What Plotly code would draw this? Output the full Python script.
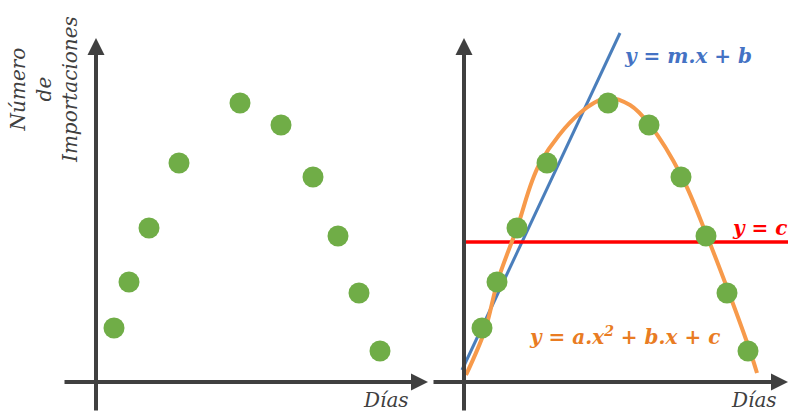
import plotly.graph_objects as go

# Datos (días, número de importaciones)
dias = [1.8, 3.3, 5.3, 8.3, 14.4, 18.5, 21.7, 24.2, 26.3, 28.4]
importaciones = [5.4, 10.0, 15.4, 21.9, 27.9, 25.7, 20.5, 14.6, 8.9, 3.1]

# Ajustes
recta_x = [-0.2, 15.6]
recta_y = [1.2, 34.9]
constante_x = [0.2, 32.4]
constante_y = [14.0, 14.0]
parabola_x = [0.2, 2.1, 3.4, 5.3, 7.6, 11.6, 14.3, 16.6, 18.6, 21.8, 24.3, 26.5, 28.6, 29.3]
parabola_y = [0.7, 5.2, 10.2, 15.4, 21.9, 26.9, 28.4, 27.7, 25.7, 20.5, 14.6, 8.9, 3.1, 0.9]

verde = "#70AD47"
naranja = "#F79A4B"
azul = "#4A7EBB"
rojo = "#FF0000"
gris = "#404040"
serif = "DejaVu Serif"

fig = go.Figure()

# panel izquierdo
fig.add_trace(go.Scatter(x=dias, y=importaciones, mode="markers",
                         marker=dict(size=21, color=verde), xaxis="x", yaxis="y"))

# panel derecho
fig.add_trace(go.Scatter(x=recta_x, y=recta_y, mode="lines",
                         line=dict(color=azul, width=3), xaxis="x2", yaxis="y2"))
fig.add_trace(go.Scatter(x=constante_x, y=constante_y, mode="lines",
                         line=dict(color=rojo, width=3.5), xaxis="x2", yaxis="y2"))
fig.add_trace(go.Scatter(x=parabola_x, y=parabola_y, mode="lines",
                         line=dict(color=naranja, width=4, shape="spline"),
                         xaxis="x2", yaxis="y2"))
fig.add_trace(go.Scatter(x=dias, y=importaciones, mode="markers",
                         marker=dict(size=21, color=verde), xaxis="x2", yaxis="y2"))

ejes = dict(showgrid=False, zeroline=False, showticklabels=False, ticks="", showline=False)
titulo_y = "Número<br>de<br>Importaciones"
fuente_titulo = dict(family=serif, size=20, color=gris, style="italic")

annotations = []
for xr, yr, x0, tip, xt in [("x", "y", -3.3, 33.2, -5.2), ("x2", "y2", -3.2, 32.4, -5.1)]:
    # eje x
    annotations.append(dict(x=tip, y=0, ax=x0, ay=0,
                            xref=xr, yref=yr, axref=xr, ayref=yr, text="",
                            showarrow=True, arrowhead=2, arrowsize=0.85,
                            arrowwidth=4, arrowcolor=gris))
    # eje y
    annotations.append(dict(x=0, y=34.4, ax=0, ay=-3.0,
                            xref=xr, yref=yr, axref=xr, ayref=yr, text="",
                            showarrow=True, arrowhead=2, arrowsize=0.85,
                            arrowwidth=4, arrowcolor=gris))
    annotations.append(dict(x=31.5, y=-1.8, xref=xr, yref=yr, xanchor="right",
                            text="Días", showarrow=False, font=fuente_titulo))
    annotations.append(dict(x=xt, y=29.2, xref=xr, yref=yr, text=titulo_y,
                            textangle=-90, showarrow=False, font=fuente_titulo))

fuente_eq = dict(family=serif, size=20, style="italic", weight="bold")
annotations.append(dict(x=15.8, y=32.6, xref="x2", yref="y2", xanchor="left",
                        text="y = m.x + b", showarrow=False,
                        font=dict(fuente_eq, color="#4472C4")))
annotations.append(dict(x=26.6, y=15.4, xref="x2", yref="y2", xanchor="left",
                        text="y = c", showarrow=False,
                        font=dict(fuente_eq, color=rojo)))
annotations.append(dict(x=6.3, y=4.6, xref="x2", yref="y2", xanchor="left",
                        text="y = a.x<sup>2</sup> + b.x + c", showarrow=False,
                        font=dict(fuente_eq, color="#E97C23")))

fig.update_layout(
    width=788, height=412,
    margin=dict(l=0, r=0, t=0, b=0),
    plot_bgcolor="white", paper_bgcolor="white",
    showlegend=False,
    xaxis=dict(domain=[0, 430 / 788], range=[-9.6, 33.4], **ejes),
    yaxis=dict(domain=[0, 1], range=[-3.0, 38.2], **ejes),
    xaxis2=dict(domain=[430 / 788, 1], range=[-3.4, 32.4], **ejes),
    yaxis2=dict(domain=[0, 1], range=[-3.0, 38.2], anchor="x2", **ejes),
    annotations=annotations,
)

# sin margen en el body para que la figura ocupe toda la ventana
fig.write_html("out.html", config={"displayModeBar": False},
               post_script="document.body.style.margin='0';document.body.style.overflow='hidden';")
